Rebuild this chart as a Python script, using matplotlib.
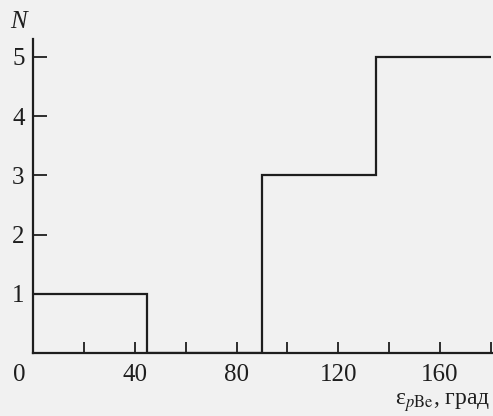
import matplotlib
matplotlib.use('Agg')
from matplotlib import pyplot as plt
from matplotlib.transforms import ScaledTranslation

# histogram of angles
bin_edges = [0, 45, 90, 135, 180]
counts = [1, 0, 3, 5]
x_major = [0, 40, 80, 120, 160]
x_minor = [20, 60, 100, 140, 180]
y_ticks = [1, 2, 3, 4, 5]

plt.rcParams['font.family'] = ['Liberation Serif', 'DejaVu Serif']
plt.rcParams['mathtext.fontset'] = 'stix'

paper = '#f1f1f1'
ink = '#1e1e1e'

fig = plt.figure(figsize=(4.93, 4.16), dpi=100, facecolor=paper)
ax = fig.add_axes([33 / 493, 1 - 353 / 416, 1 - 33 / 493, (353 - 39) / 416])
ax.set_facecolor(paper)

ax.stairs(counts, bin_edges, baseline=None, color=ink, linewidth=1.6)

ax.set_xlim(0, 180.8)
ax.set_ylim(0, 5.3)

for side in ['top', 'right']:
    ax.spines[side].set_visible(False)
for side in ['left', 'bottom']:
    ax.spines[side].set_color(ink)
    ax.spines[side].set_linewidth(1.6)

ax.set_xticks(x_major)
ax.set_xticks(x_minor, minor=True)
ax.set_yticks(y_ticks)
ax.tick_params(axis='x', which='both', direction='in', length=8, width=1.3,
               color=ink, labelsize=18, labelcolor=ink, pad=8)
ax.tick_params(axis='y', direction='in', length=10, width=1.3,
               color=ink, labelsize=18, labelcolor=ink, pad=6)

# the "0" label sits left of the axis corner in the original
fig.canvas.draw()
zero_label = ax.get_xticklabels()[0]
zero_label.set_transform(zero_label.get_transform()
                         + ScaledTranslation(-0.14, 0, fig.dpi_scale_trans))

fig.text(18 / 493, 1 - 22 / 416, 'N', fontsize=18, style='italic',
         color=ink, ha='center', va='center')
fig.text(490 / 493, 1 - 403 / 416, r'ε$_{p\mathrm{Be}}$, град',
         fontsize=17, color=ink, ha='right', va='center')

fig.savefig('out.png', dpi=100, facecolor=paper)
